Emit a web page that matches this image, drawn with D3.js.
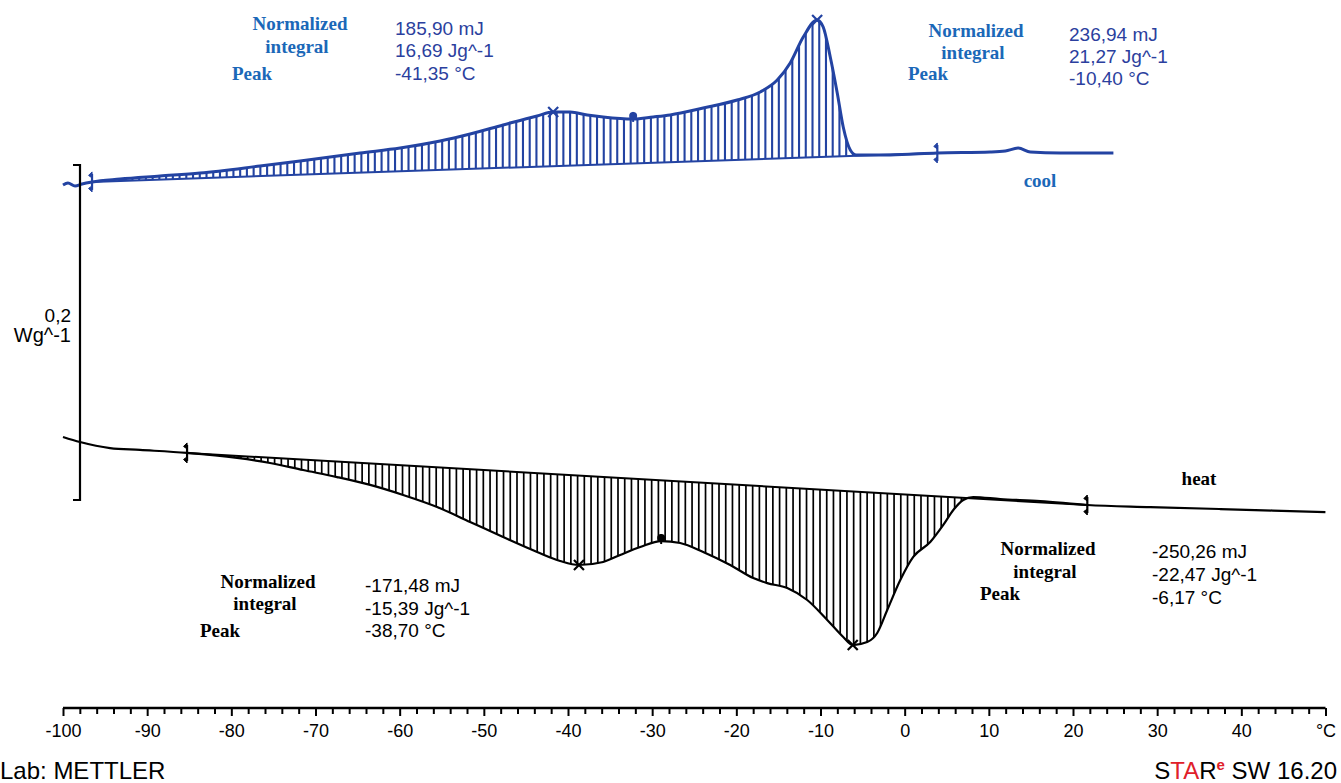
<!DOCTYPE html>
<html>
<head>
<meta charset="utf-8">
<script src="https://cdn.jsdelivr.net/npm/d3@7/dist/d3.min.js"></script>
<style>
  body { margin: 0; background: #fff; }
  svg { display: block; }
  .sans { font-family: "Liberation Sans", Arial, sans-serif; }
  .serif { font-family: "Liberation Serif", "Times New Roman", serif; font-weight: bold; }
</style>
</head>
<body>
<script>
// cooling run (blue), temperature in C and heat flow in W/g
var coolTemp = [-100.0, -99.41, -98.57, -97.74, -96.55, -93.23, -88.47, -83.72, -76.59, -71.83,
  -64.70, -59.95, -55.19, -51.63, -47.71, -43.67, -41.76, -39.74, -37.72, -35.82,
  -32.26, -29.88, -27.86, -23.94, -19.90, -17.16, -15.14, -13.60, -12.05, -10.40,
  -9.68, -8.84, -8.01, -7.30, -6.46, -5.75, -1.71, 3.88, 10.17, 11.96,
  13.50, 14.93, 18.50, 24.80]
var coolSignal = [0.1881, 0.1893, 0.1875, 0.1887, 0.1899, 0.1916, 0.1934, 0.1952, 0.1994, 0.2024,
  0.2072, 0.2101, 0.2143, 0.2185, 0.2239, 0.2293, 0.2316, 0.2316, 0.2299, 0.2287,
  0.2275, 0.2287, 0.2299, 0.2340, 0.2388, 0.2436, 0.2507, 0.2609, 0.2764, 0.2866,
  0.2824, 0.2645, 0.2430, 0.2227, 0.2090, 0.2060, 0.2060, 0.2072, 0.2078, 0.2084,
  0.2101, 0.2078, 0.2072, 0.2072]

// heating run (black)
var heatTemp = [-100.0, -97.98, -94.41, -90.85, -85.26, -79.32, -75.40, -71.48, -67.44, -63.51,
  -59.59, -55.55, -51.63, -47.71, -43.67, -40.93, -38.70, -35.82, -33.80, -31.42,
  -28.93, -26.67, -23.94, -20.73, -17.99, -16.33, -13.95, -11.58, -9.20, -7.30,
  -6.17, -4.45, -3.26, -2.07, -0.52, 1.02, 3.04, 4.59, 5.78, 6.96,
  8.15, 11.36, 16.11, 21.70, 29.19, 37.51, 49.99]
var heatSignal = [0.0376, 0.0346, 0.0310, 0.0299, 0.0281, 0.0251, 0.0221, 0.0179, 0.0137, 0.0090,
  0.0030, -0.0042, -0.0131, -0.0221, -0.0310, -0.0364, -0.0388, -0.0370, -0.0328, -0.0281,
  -0.0245, -0.0257, -0.0310, -0.0388, -0.0466, -0.0496, -0.0525, -0.0597, -0.0716, -0.0818,
  -0.0866, -0.0848, -0.0794, -0.0657, -0.0478, -0.0340, -0.0251, -0.0149, -0.0060, 0.0000,
  0.0018, 0.0006, -0.0006, -0.0030, -0.0042, -0.0054, -0.0072]

// integration limits, peaks and intermediate points
var coolLimits = [-96.55, 3.88]
var coolPeaks = [-41.76, -10.40]
var coolDots = [-32.26]
var heatLimits = [-85.26, 21.70]
var heatPeaks = [-38.70, -6.17]
var heatDots = [-28.93]

var coolResults = ['185,90 mJ', '16,69 Jg^-1', '-41,35 °C']
var coolResults2 = ['236,94 mJ', '21,27 Jg^-1', '-10,40 °C']
var heatResults = ['-171,48 mJ', '-15,39 Jg^-1', '-38,70 °C']
var heatResults2 = ['-250,26 mJ', '-22,47 Jg^-1', '-6,17 °C']

var majorTicks = [-100, -90, -80, -70, -60, -50, -40, -30, -20, -10, 0, 10, 20, 30, 40, 50]
var tickLabels = ['-100', '-90', '-80', '-70', '-60', '-50', '-40', '-30', '-20', '-10', '0', '10', '20', '30', '40', '°C']

var W = 1341, H = 783
var blue = '#2343a2', labelBlue = '#1b68b8', valueBlue = '#2b3f9e'

var svg = d3.select(document.body).append('svg')
  .attr('width', W).attr('height', H)

var x = d3.scaleLinear().domain([-100, 50]).range([63, 1325.5])
var y = d3.scaleLinear().domain([0, 0.2]).range([500, 165])

function series(temp, sig) {
  return temp.map(function(t, i) { return { t: t, v: sig[i] } })
}

function valueAt(data, t) {
  var i = d3.bisector(function(d) { return d.t }).right(data, t)
  if (i <= 0) return data[0].v
  if (i >= data.length) return data[data.length - 1].v
  var a = data[i - 1], b = data[i]
  return a.v + (b.v - a.v) * (t - a.t) / (b.t - a.t)
}

function drawRun(temp, sig, limits, peaks, dots, color, lw, hw, id) {
  var data = series(temp, sig)
  var v0 = valueAt(data, limits[0]), v1 = valueAt(data, limits[1])
  var base = d3.scaleLinear().domain(limits).range([v0, v1])

  var inside = data.filter(function(d) { return d.t >= limits[0] && d.t <= limits[1] })
  var area = d3.area()
    .x(function(d) { return x(d.t) })
    .y0(function(d) { return y(base(d.t)) })
    .y1(function(d) { return y(d.v) })
    .curve(d3.curveMonotoneX)

  svg.append('clipPath').attr('id', id)
    .append('path').attr('d', area(inside))

  // vertical hatching of the integrated area
  var g = svg.append('g').attr('clip-path', 'url(#' + id + ')')
  g.selectAll('line').data(d3.range(limits[0] + 0.8, limits[1], 0.8)).enter().append('line')
    .attr('x1', function(d) { return x(d) })
    .attr('x2', function(d) { return x(d) })
    .attr('y1', 0)
    .attr('y2', 700)
    .attr('stroke', color)
    .attr('stroke-width', hw)

  // baseline
  svg.append('line')
    .attr('x1', x(limits[0])).attr('y1', y(v0))
    .attr('x2', x(limits[1])).attr('y2', y(v1))
    .attr('stroke', color).attr('stroke-width', 2)

  var line = d3.line()
    .x(function(d) { return x(d.t) })
    .y(function(d) { return y(d.v) })
    .curve(d3.curveMonotoneX)

  svg.append('path').datum(data)
    .attr('d', line)
    .attr('fill', 'none')
    .attr('stroke', color)
    .attr('stroke-width', lw)
    .attr('stroke-linejoin', 'round')

  // limit markers
  limits.forEach(function(t) {
    var px = x(t), py = y(valueAt(data, t))
    svg.append('line').attr('x1', px).attr('x2', px).attr('y1', py - 8).attr('y2', py + 8)
      .attr('stroke', color).attr('stroke-width', 2.2)
    svg.append('path').attr('d', 'M' + px + ',' + (py - 10) + 'l-3.5,3.5l3.5,2.5z').attr('fill', color).attr('stroke', color)
    svg.append('path').attr('d', 'M' + px + ',' + (py + 10) + 'l-3.5,-3.5l3.5,-2.5z').attr('fill', color).attr('stroke', color)
  })

  peaks.forEach(function(t) {
    var px = x(t), py = y(valueAt(data, t))
    svg.append('path').attr('d', 'M' + (px - 5) + ',' + (py - 5) + 'l10,10M' + (px + 5) + ',' + (py - 5) + 'l-10,10')
      .attr('stroke', color).attr('stroke-width', 2.2)
  })

  dots.forEach(function(t) {
    var px = x(t), py = y(valueAt(data, t))
    svg.append('line').attr('x1', px).attr('x2', px).attr('y1', py - 7).attr('y2', py + 3)
      .attr('stroke', color).attr('stroke-width', 2)
    svg.append('circle').attr('cx', px).attr('cy', py - 3).attr('r', 4).attr('fill', color)
  })
}

drawRun(coolTemp, coolSignal, coolLimits, coolPeaks, coolDots, blue, 3, 2.1, 'clipCool')
drawRun(heatTemp, heatSignal, heatLimits, heatPeaks, heatDots, '#000', 2.2, 1.7, 'clipHeat')

// scale bar 0,2 W/g
svg.append('path')
  .attr('d', 'M73,' + y(0.2) + 'H80V' + y(0) + 'H73')
  .attr('fill', 'none').attr('stroke', '#000').attr('stroke-width', 2.2)
svg.append('text').attr('class', 'sans').attr('x', 71).attr('y', 322)
  .attr('text-anchor', 'end').attr('font-size', 19).text('0,2')
svg.append('text').attr('class', 'sans').attr('x', 71).attr('y', 342)
  .attr('text-anchor', 'end').attr('font-size', 20).text('Wg^-1')

// x axis
var axis = d3.axisBottom(x)
  .tickValues(d3.range(-100, 51, 2))
  .tickSize(6)
  .tickPadding(10)
  .tickFormat(function(d) {
    var i = majorTicks.indexOf(d)
    return i >= 0 ? tickLabels[i] : ''
  })

var ax = svg.append('g').attr('transform', 'translate(0,708)').call(axis)
ax.select('.domain').attr('stroke-width', 2.4).attr('d', 'M' + x(-100) + ',0H' + x(50))
ax.selectAll('.tick line').attr('stroke-width', 2)
  .attr('y2', function(d) { return majorTicks.indexOf(d) >= 0 ? 8 : 6 })
ax.selectAll('.tick text').attr('class', 'sans').attr('font-size', 18).attr('fill', '#000')

// result annotations
function results(lx, ly, vx, vy, vals, lc, vc) {
  var g = svg.append('g')
  g.append('text').attr('class', 'serif').attr('x', lx).attr('y', ly[0]).attr('text-anchor', 'middle')
    .attr('font-size', 19).attr('fill', lc).text('Normalized')
  g.append('text').attr('class', 'serif').attr('x', lx - 3).attr('y', ly[1]).attr('text-anchor', 'middle')
    .attr('font-size', 19).attr('fill', lc).text('integral')
  g.append('text').attr('class', 'serif').attr('x', lx - 68).attr('y', ly[2])
    .attr('font-size', 19).attr('fill', lc).text('Peak')
  vals.forEach(function(s, i) {
    g.append('text').attr('class', 'sans').attr('x', vx).attr('y', vy[i])
      .attr('font-size', 19).attr('fill', vc).text(s)
  })
}

results(300, [30, 53, 80], 395, [35, 57, 80], coolResults, labelBlue, valueBlue)
results(976, [37, 59, 80], 1069, [41, 63, 85], coolResults2, labelBlue, valueBlue)
results(268, [588, 610, 637], 365, [592, 615, 637], heatResults, '#000', '#000')
results(1048, [555, 578, 600], 1152, [558, 581, 604], heatResults2, '#000', '#000')

svg.append('text').attr('class', 'serif').attr('x', 1040).attr('y', 187)
  .attr('text-anchor', 'middle').attr('font-size', 19).attr('fill', labelBlue).text('cool')
svg.append('text').attr('class', 'serif').attr('x', 1199).attr('y', 485)
  .attr('text-anchor', 'middle').attr('font-size', 19).attr('fill', '#000').text('heat')

// footer
svg.append('text').attr('class', 'sans').attr('x', 0).attr('y', 779)
  .attr('font-size', 24).text('Lab: METTLER')
var star = svg.append('text').attr('class', 'sans').attr('x', 1337).attr('y', 779)
  .attr('text-anchor', 'end').attr('font-size', 24)
star.append('tspan').text('S')
star.append('tspan').attr('fill', '#e0202a').text('TA')
star.append('tspan').text('R')
star.append('tspan').attr('fill', '#e0202a').attr('font-size', 15).attr('font-weight', 'bold').attr('dy', -9).text('e')
star.append('tspan').attr('dy', 9).text(' SW 16.20')
</script>
</body>
</html>
